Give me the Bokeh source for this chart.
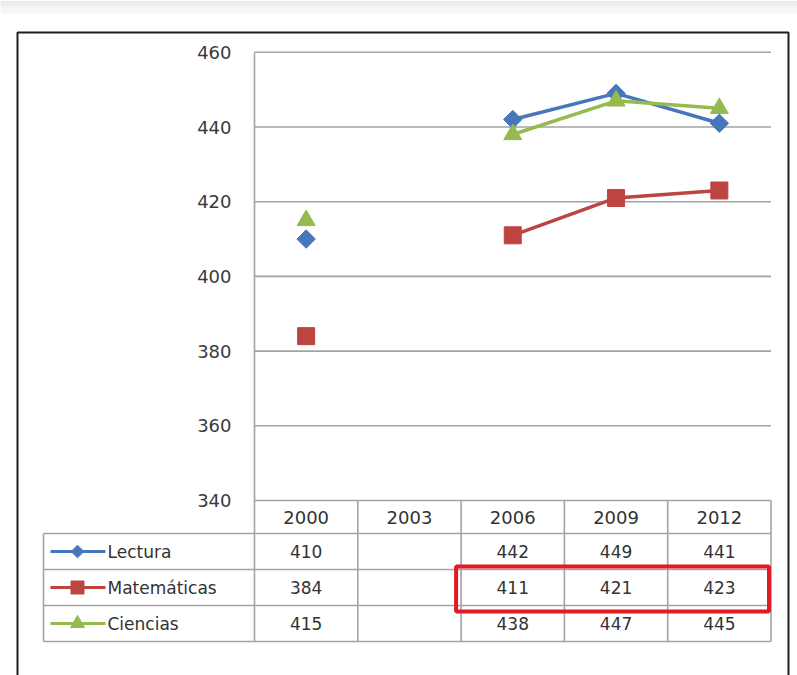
from bokeh.plotting import figure
from bokeh.models import Range1d
from bokeh.core.properties import value
from bokeh.embed import file_html
from bokeh.resources import INLINE
import math

# ---- data ----
years = ["2000", "2003", "2006", "2009", "2012"]
lectura = [410, None, 442, 449, 441]
matematicas = [384, None, 411, 421, 423]
ciencias = [415, None, 438, 447, 445]
series_names = ["Lectura", "Matemáticas", "Ciencias"]
y_ticks = [340, 360, 380, 400, 420, 440, 460]

# ---- layout (pixels on the 797x675 canvas) ----
W, H = 797, 675
LEFT = 254.0          # left edge of the plot area
COL = 103.3           # width of one category column
Y_BASE = 500.0        # pixel row of the lowest tick
Y_MIN = y_ticks[0]
PPU = 74.7 / 20.0     # pixels per score point
LEG_LEFT = 43.0       # left edge of the legend column in the table
HEADER_BOTTOM = 533.0
ROW_H = 36.0

COLORS = ["#4677bb", "#be4441", "#95bb4f"]
GRID = "#a3a3a3"
TEXT = "#333333"
FONT = value("DejaVu Sans")


def vx(px):
    return (px - LEFT) / COL


def vy(py):
    return Y_MIN + (Y_BASE - py) / PPU


p = figure(width=W, height=H, output_backend="svg", toolbar_location=None,
           x_range=Range1d(vx(0), vx(W)), y_range=Range1d(vy(H), vy(0)),
           min_border=0, background_fill_color="white",
           border_fill_color="white", outline_line_color=None)
p.axis.visible = False
p.grid.visible = False

n = len(years)
xs = [i + 0.5 for i in range(n)]

# light band across the top of the page
p.quad(left=vx(0), right=vx(W), top=vy(0), bottom=vy(6), fill_color="#ececec", line_color=None)
p.quad(left=vx(0), right=vx(W), top=vy(6), bottom=vy(13), fill_color="#f5f5f5", line_color=None)

# outer frame
p.line([vx(17), vx(17), vx(788), vx(788)], [vy(H + 10), vy(32), vy(32), vy(H + 10)],
       line_color="#1e1e1e", line_width=2)

# horizontal gridlines
p.segment(x0=[0] * len(y_ticks), x1=[n] * len(y_ticks), y0=y_ticks, y1=y_ticks,
          line_color=GRID, line_width=1.6)

# y tick labels
p.text(x=[vx(231)] * len(y_ticks), y=y_ticks, text=[str(t) for t in y_ticks],
       text_align="right", text_baseline="middle", text_font=FONT,
       text_font_size="18px", text_color="#3a3a3a")

# ---- data table ----
row_tops = [HEADER_BOTTOM + k * ROW_H for k in range(len(series_names) + 1)]
table_bottom = row_tops[-1]

# horizontal rules of the table
p.segment(x0=[vx(LEG_LEFT)] * len(row_tops), x1=[n] * len(row_tops),
          y0=[vy(r) for r in row_tops], y1=[vy(r) for r in row_tops],
          line_color=GRID, line_width=1.6)
# column rules (plot area left edge runs up to the top tick)
p.segment(x0=[0], x1=[0], y0=[y_ticks[-1]], y1=[vy(table_bottom)], line_color=GRID, line_width=1.6)
p.segment(x0=list(range(1, n + 1)), x1=list(range(1, n + 1)),
          y0=[Y_MIN] * n, y1=[vy(table_bottom)] * n, line_color=GRID, line_width=1.6)
p.segment(x0=[vx(LEG_LEFT)], x1=[vx(LEG_LEFT)], y0=[vy(HEADER_BOTTOM)], y1=[vy(table_bottom)],
          line_color=GRID, line_width=1.6)

# year headers
p.text(x=xs, y=[vy((Y_BASE + HEADER_BOTTOM) / 2)] * n, text=years,
       text_align="center", text_baseline="middle", text_font=FONT,
       text_font_size="18px", text_color=TEXT)

all_series = [lectura, matematicas, ciencias]
markers = ["square", "square", "triangle"]
angles = [math.pi / 4, 0, 0]
sizes = [13, 17, 18]

for k, (name, vals) in enumerate(zip(series_names, all_series)):
    yc = vy(row_tops[k] + ROW_H / 2)
    # legend key
    p.line([vx(50), vx(105)], [yc, yc], line_color=COLORS[k], line_width=3)
    p.scatter([vx(77)], [yc], marker=markers[k], angle=angles[k], size=sizes[k] - 4,
              fill_color=COLORS[k], line_color=COLORS[k])
    p.text(x=[vx(107)], y=[yc], text=[name], text_align="left", text_baseline="middle",
           text_font=FONT, text_font_size="17px", text_color=TEXT)
    # values
    cx = [x for x, v in zip(xs, vals) if v is not None]
    cv = [str(v) for v in vals if v is not None]
    p.text(x=cx, y=[yc] * len(cx), text=cv, text_align="center", text_baseline="middle",
           text_font=FONT, text_font_size="17px", text_color=TEXT)

# ---- series lines and markers ----
for k, vals in enumerate(all_series):
    ys = [float("nan") if v is None else v for v in vals]
    p.line(xs, ys, line_color=COLORS[k], line_width=3.5)
    p.scatter(xs, ys, marker=markers[k], angle=angles[k], size=sizes[k],
              fill_color=COLORS[k], line_color=COLORS[k])

# highlight box around Matemáticas 2006-2012
m_top = row_tops[1]
m_bot = row_tops[2]
p.quad(left=[vx(2 * COL + LEFT - 5)], right=[vx(n * COL + LEFT - 2)],
       top=[vy(m_top - 3)], bottom=[vy(m_bot + 6)],
       fill_alpha=0, line_color="#e01b22", line_width=4)

open("out.html", "w").write(file_html(p, INLINE))
